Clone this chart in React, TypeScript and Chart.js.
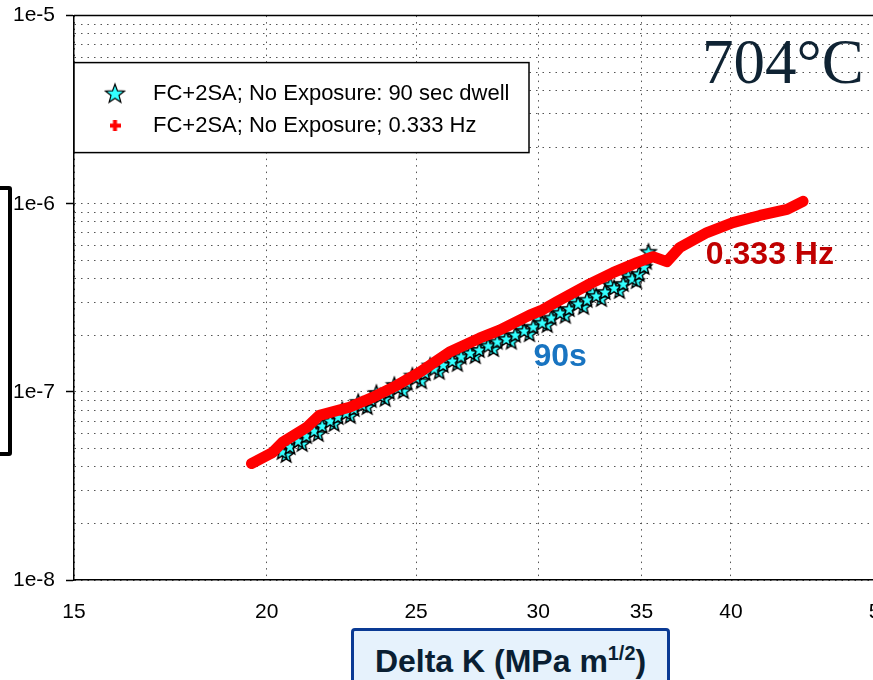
import React, { useEffect, useRef } from 'react';
import { Chart, registerables } from 'chart.js';

Chart.register(...registerables);

// ---------- data ----------
const seriesNames = ['FC+2SA; No Exposure: 90 sec dwell', 'FC+2SA; No Exposure; 0.333 Hz'];

const xTickValues = [15, 20, 25, 30, 35, 40, 50];
const yDecades = [1e-8, 1e-7, 1e-6, 1e-5];
const yTickLabels = ['1e-8', '1e-7', '1e-6', '1e-5'];
const yGridMultipliers = [1, 2, 3, 4, 5, 6, 7, 8, 9];

// 0.333 Hz series (Delta K, da/dN)
const hzDeltaK = [19.55, 20.17, 20.47, 21.23, 21.64, 22.63, 23.43, 24.28, 25.13, 26.28, 27.48, 28.32, 29.62, 30.2, 30.84, 32.4, 33.54, 34.76, 35.6, 36.35, 37.06, 38.6, 40.12, 41.77, 43.5, 44.55];
const hzRate = [4.16e-8, 4.76e-8, 5.38e-8, 6.47e-8, 7.5e-8, 8.28e-8, 9.35e-8, 1.08e-7, 1.27e-7, 1.63e-7, 1.93e-7, 2.13e-7, 2.56e-7, 2.73e-7, 3.01e-7, 3.75e-7, 4.3e-7, 4.86e-7, 5.23e-7, 4.92e-7, 5.85e-7, 7.03e-7, 7.94e-7, 8.66e-7, 9.33e-7, 1.03e-6];

// 90 sec dwell series (Delta K, da/dN): edges of the band
const dwellDeltaK = [20.35, 20.59, 20.84, 21.09, 21.34, 21.6, 21.86, 22.12, 22.39, 22.66, 22.93, 23.24, 23.56, 23.87, 24.2, 24.53, 24.86, 25.2, 25.53, 25.88, 26.23, 26.59, 26.95, 27.31, 27.69, 28.06, 28.44, 28.82, 29.21, 29.61, 30.01, 30.41, 30.83, 31.24, 31.67, 32.1, 32.53, 32.97, 33.41, 33.87, 34.32, 34.74, 35.05, 35.26, 35.37];
const dwellRate = [4.91e-8, 4.62e-8, 5.62e-8, 5.29e-8, 6.36e-8, 5.98e-8, 7.19e-8, 6.76e-8, 8.02e-8, 7.45e-8, 8.85e-8, 8.32e-8, 9.88e-8, 9.18e-8, 1.09e-7, 1.01e-7, 1.22e-7, 1.14e-7, 1.38e-7, 1.28e-7, 1.52e-7, 1.41e-7, 1.67e-7, 1.55e-7, 1.82e-7, 1.69e-7, 1.99e-7, 1.85e-7, 2.19e-7, 2.03e-7, 2.42e-7, 2.27e-7, 2.73e-7, 2.54e-7, 3.05e-7, 2.83e-7, 3.36e-7, 3.12e-7, 3.71e-7, 3.44e-7, 4.14e-7, 3.89e-7, 4.68e-7, 4.92e-7, 5.56e-7];
// 90 sec dwell series: middle of the band
const dwellMidDeltaK = [20.47, 20.71, 20.96, 21.22, 21.47, 21.73, 21.99, 22.25, 22.52, 22.79, 23.07, 23.38, 23.7, 24.02, 24.34, 24.67, 25.0, 25.34, 25.69, 26.03, 26.39, 26.74, 27.1, 27.47, 27.84, 28.22, 28.6, 28.99, 29.38, 29.78, 30.18, 30.59, 31.0, 31.42, 31.84, 32.27, 32.71, 33.15, 33.6, 34.06, 34.52, 34.88, 35.14];
const dwellMidRate = [4.8e-8, 5.1e-8, 5.49e-8, 5.83e-8, 6.2e-8, 6.59e-8, 7.01e-8, 7.36e-8, 7.73e-8, 8.12e-8, 8.53e-8, 9.07e-8, 9.52e-8, 1.0e-7, 1.05e-7, 1.12e-7, 1.19e-7, 1.26e-7, 1.33e-7, 1.39e-7, 1.46e-7, 1.54e-7, 1.61e-7, 1.67e-7, 1.76e-7, 1.85e-7, 1.91e-7, 2.01e-7, 2.11e-7, 2.22e-7, 2.33e-7, 2.48e-7, 2.63e-7, 2.76e-7, 2.94e-7, 3.09e-7, 3.24e-7, 3.4e-7, 3.57e-7, 3.75e-7, 3.99e-7, 4.24e-7, 4.62e-7];

const annotations = [
  { text: '0.333 Hz', x: 42.4, y: 5.3e-7, color: '#c00000' },
  { text: '90s', x: 31.0, y: 1.53e-7, color: '#1874c1' },
];
const tempLabel = '704°C';

// ---------- marker images ----------
function makeStar(r: number, ratio: number, lw: number) {
  const s = Math.ceil(r * 2 + 4);
  const c = document.createElement('canvas');
  c.width = s;
  c.height = s;
  const g = c.getContext('2d')!;
  g.translate(s / 2, s / 2 + 0.5);
  g.beginPath();
  for (let i = 0; i < 10; i++) {
    const ang = -Math.PI / 2 + (i * Math.PI) / 5;
    const rr = i % 2 ? r * ratio : r;
    const px = Math.cos(ang) * rr;
    const py = Math.sin(ang) * rr;
    if (i === 0) g.moveTo(px, py);
    else g.lineTo(px, py);
  }
  g.closePath();
  g.fillStyle = '#33ffff';
  g.fill();
  g.strokeStyle = '#000';
  g.lineWidth = lw;
  g.stroke();
  return c;
}

function makeCross(size: number, arm: number) {
  const c = document.createElement('canvas');
  c.width = size;
  c.height = size;
  const g = c.getContext('2d')!;
  g.fillStyle = '#ff0000';
  const o = (size - arm) / 2;
  g.fillRect(0, o, size, arm);
  g.fillRect(o, 0, arm, size);
  return c;
}

const isDecade = (v: number) => yDecades.some((d) => Math.abs(v - d) / d < 1e-6);

export default function App() {
  const canvasRef = useRef<HTMLCanvasElement | null>(null);

  useEffect(() => {
    const starSmall = makeStar(8, 0.42, 1.4);
    const starBig = makeStar(10, 0.42, 1.2);
    const cross = makeCross(11, 4);

    const overlay = {
      id: 'overlay',
      afterDraw(chart: any) {
        const { ctx, chartArea: a, scales } = chart;
        ctx.save();
        // top frame line
        ctx.strokeStyle = '#000';
        ctx.lineWidth = 1.5;
        ctx.beginPath();
        ctx.moveTo(a.left, a.top);
        ctx.lineTo(a.right, a.top);
        ctx.stroke();

        // legend box
        const lx = a.left;
        const ly = a.top + 47;
        ctx.fillStyle = '#fff';
        ctx.fillRect(lx, ly, 455, 90);
        ctx.strokeStyle = '#000';
        ctx.lineWidth = 1.5;
        ctx.strokeRect(lx, ly, 455, 90);
        ctx.drawImage(starBig, lx + 41 - starBig.width / 2, ly + 31 - starBig.height / 2);
        ctx.drawImage(cross, lx + 41 - cross.width / 2, ly + 63 - cross.height / 2);
        ctx.fillStyle = '#000';
        ctx.font = '22px "Liberation Sans", Arial, sans-serif';
        ctx.textAlign = 'left';
        ctx.textBaseline = 'middle';
        ctx.fillText(seriesNames[0], lx + 79, ly + 31);
        ctx.fillText(seriesNames[1], lx + 79, ly + 63);

        // annotations
        ctx.font = 'bold 32px "Liberation Sans", Arial, sans-serif';
        ctx.textAlign = 'center';
        for (const n of annotations) {
          ctx.fillStyle = n.color;
          ctx.fillText(n.text, scales.x.getPixelForValue(n.x), scales.y.getPixelForValue(n.y));
        }

        // temperature label
        ctx.font = '63px "Liberation Serif", "Times New Roman", serif';
        ctx.fillStyle = '#0f2333';
        ctx.textAlign = 'left';
        ctx.textBaseline = 'alphabetic';
        ctx.fillText(tempLabel, a.left + 628, a.top + 67);
        ctx.restore();
      },
    };

    const chart = new Chart(canvasRef.current!, {
      type: 'scatter',
      data: {
        datasets: [
          {
            label: seriesNames[1],
            data: hzDeltaK.map((x, i) => ({ x, y: hzRate[i] })),
            showLine: true,
            borderColor: '#ff0000',
            backgroundColor: '#ff0000',
            borderWidth: 11,
            borderJoinStyle: 'round',
            borderCapStyle: 'round',
            pointRadius: 0,
            pointStyle: cross as any,
            tension: 0,
          },
          {
            label: seriesNames[0],
            data: dwellDeltaK
              .map((x, i) => ({ x, y: dwellRate[i] }))
              .concat(dwellMidDeltaK.map((x, i) => ({ x, y: dwellMidRate[i] }))),
            showLine: false,
            pointStyle: starSmall as any,
            pointRadius: 8,
            pointHoverRadius: 8,
          },
        ],
      },
      options: {
        responsive: false,
        animation: false,
        devicePixelRatio: 1,
        layout: { padding: 0 },
        plugins: { legend: { display: false }, tooltip: { enabled: false } },
        scales: {
          x: {
            type: 'logarithmic',
            position: 'bottom',
            min: 15,
            max: 50,
            afterBuildTicks: (scale: any) => {
              scale.ticks = xTickValues.map((v) => ({ value: v }));
            },
            afterFit: (scale: any) => {
              scale.height = 100;
            },
            ticks: {
              callback: (v: any) => String(v),
              font: { size: 21, family: '"Liberation Sans", Arial, sans-serif' },
              color: '#000',
              padding: 20,
              autoSkip: false,
              maxRotation: 0,
              minRotation: 0,
            },
            grid: { color: '#555', lineWidth: 1, drawTicks: false },
            border: { display: true, color: '#000', width: 1.5, dash: [1.5, 5] },
          },
          y: {
            type: 'logarithmic',
            min: 1e-8,
            max: 1e-5,
            afterBuildTicks: (scale: any) => {
              const t: any[] = [];
              yDecades.forEach((d, di) => {
                if (di === yDecades.length - 1) {
                  t.push({ value: d, major: true });
                } else {
                  yGridMultipliers.forEach((m) => t.push({ value: m * d, major: m === 1 }));
                }
              });
              scale.ticks = t;
            },
            afterFit: (scale: any) => {
              scale.width = 74;
            },
            ticks: {
              callback: (v: any) => {
                const idx = yDecades.findIndex((d) => Math.abs(v - d) / d < 1e-6);
                return idx >= 0 ? yTickLabels[idx] : '';
              },
              font: { size: 21, family: '"Liberation Sans", Arial, sans-serif' },
              color: '#000',
              padding: 11,
              autoSkip: false,
            },
            grid: {
              color: '#555',
              lineWidth: 1,
              drawTicks: true,
              tickLength: 8,
              tickWidth: 1.5,
              tickBorderDash: [],
              tickColor: (ctx: any) => (ctx.tick && isDecade(ctx.tick.value) ? '#000' : 'rgba(0,0,0,0)'),
            },
            border: { display: true, color: '#000', width: 1.5, dash: [1.5, 5] },
          },
        },
      } as any,
      plugins: [overlay],
    });
    return () => chart.destroy();
  }, []);

  return (
    <div
      style={{
        position: 'fixed',
        left: 0,
        top: 0,
        width: 873,
        height: 680,
        overflow: 'hidden',
        background: '#fff',
      }}
    >
      <canvas
        ref={canvasRef}
        width={912}
        height={688}
        style={{ position: 'absolute', left: 0, top: -8, width: 912, height: 688 }}
      />
      <div
        style={{
          position: 'absolute',
          left: -100,
          top: 186,
          width: 112,
          height: 270,
          boxSizing: 'border-box',
          border: '4px solid #000',
          borderRadius: 3,
        }}
      />
      <div
        style={{
          position: 'absolute',
          left: 351,
          top: 628,
          width: 319,
          height: 80,
          boxSizing: 'border-box',
          border: '3px solid #0a3a94',
          borderRadius: 4,
          background: '#e6f2fc',
          textAlign: 'center',
          fontFamily: '"Liberation Sans", Arial, sans-serif',
          fontWeight: 'bold',
          fontSize: 32,
          lineHeight: '32px',
          color: '#0a1f33',
          paddingTop: 14,
          whiteSpace: 'nowrap',
        }}
      >
        Delta K (MPa m<sup style={{ fontSize: '0.62em', lineHeight: 0 }}>1/2</sup>)
      </div>
    </div>
  );
}
